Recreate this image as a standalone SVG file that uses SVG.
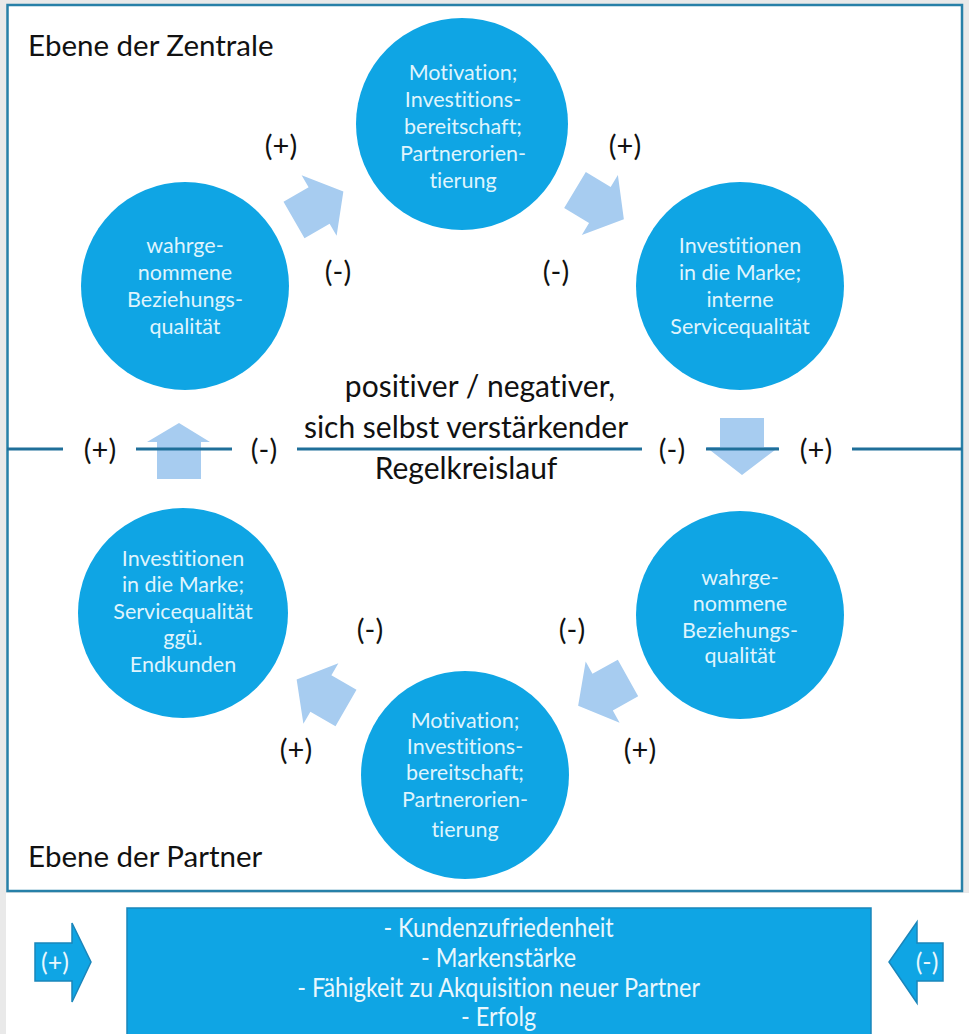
<svg xmlns="http://www.w3.org/2000/svg" xmlns:xlink="http://www.w3.org/1999/xlink" width="969" height="1034" viewBox="0 0 969 1034">
<style>
text{font-variant-ligatures:none;font-feature-settings:"liga" 0}
.circ{fill:#0fa5e4}
.ct{font-family:Lato,"Open Sans","Liberation Sans",sans-serif;font-size:21.5px;fill:#dff4fd;text-anchor:middle}
.lbl{font-family:Lato,"Open Sans","Liberation Sans",sans-serif;font-size:29px;fill:#111;text-anchor:middle}
.title{font-family:Lato,"Open Sans","Liberation Sans",sans-serif;font-size:29.5px;fill:#111}
.mid{font-family:Lato,"Open Sans","Liberation Sans",sans-serif;font-size:30px;fill:#111;text-anchor:middle}
.arr{fill:#a7ccf0}
.hline{stroke:#1f6f99;stroke-width:3;fill:none}
.bt{font-family:Lato,"Open Sans","Liberation Sans",sans-serif;font-size:26px;fill:#e8f7fd;text-anchor:middle}
.bat{font-family:Lato,"Open Sans","Liberation Sans",sans-serif;font-size:25px;fill:#e8f7fd;text-anchor:middle}
.barr{fill:#0fa5e4;stroke:#1a86bb;stroke-width:1.5}
</style>
<defs>
<polygon id="blk" points="0,-21 29,-21 29,-35 57,0 29,35 29,21 0,21"/>
</defs>
<rect x="0" y="0" width="969" height="1034" fill="#e9e9e9"/>
<rect x="6" y="893" width="963" height="141" fill="#ffffff"/>
<rect id="frame" x="7.5" y="5" width="954.5" height="886" fill="#ffffff" stroke="#2780a8" stroke-width="2.5"/>
<text class="title" x="28" y="56">Ebene der Zentrale</text>
<text class="title" x="28" y="867">Ebene der Partner</text>

<g id="connectors">
<use xlink:href="#blk" class="arr" transform="translate(294,220) rotate(-30)"/>
<use xlink:href="#blk" class="arr" transform="translate(575,190) rotate(31)"/>
<use xlink:href="#blk" class="arr" transform="translate(628,678) rotate(151)"/>
<use xlink:href="#blk" class="arr" transform="translate(346,708) rotate(210)"/>
<polygon class="arr" points="157,479 157,442 147,442 179,423 210,442 201,442 201,479"/>
<polygon class="arr" points="720,418 764,418 764,447 779,447 742,475 706,447 720,447"/>
<path class="hline" d="M7,449 H63 M136,449 H232 M297,449 H642 M706,449 H779 M852,449 H962"/>
<text class="lbl" x="281" y="156">(+)</text>
<text class="lbl" x="338" y="282">(-)</text>
<text class="lbl" x="625" y="156">(+)</text>
<text class="lbl" x="556" y="282">(-)</text>
<text class="lbl" x="100" y="460">(+)</text>
<text class="lbl" x="264" y="460">(-)</text>
<text class="lbl" x="672" y="460">(-)</text>
<text class="lbl" x="816" y="460">(+)</text>
<text class="lbl" x="370" y="640">(-)</text>
<text class="lbl" x="572" y="640">(-)</text>
<text class="lbl" x="296" y="760">(+)</text>
<text class="lbl" x="640" y="760">(+)</text>
</g>

<g id="center-text">
<text class="mid" x="480" y="397">positiver / negativer,</text>
<text class="mid" x="466" y="438">sich selbst verstärkender</text>
<text class="mid" x="466" y="479">Regelkreislauf</text>
</g>

<g id="node-top">
<circle class="circ" cx="462" cy="124" r="106"/>
<text class="ct" x="463" y="80">Motivation;</text>
<text class="ct" x="463" y="107">Investitions-</text>
<text class="ct" x="463" y="134">bereitschaft;</text>
<text class="ct" x="463" y="161">Partnerorien-</text>
<text class="ct" x="463" y="188">tierung</text>
</g>

<g id="node-left-top">
<circle class="circ" cx="185" cy="286" r="104"/>
<text class="ct" x="185" y="253">wahrge-</text>
<text class="ct" x="185" y="280">nommene</text>
<text class="ct" x="185" y="307">Beziehungs-</text>
<text class="ct" x="185" y="334">qualität</text>
</g>

<g id="node-right-top">
<circle class="circ" cx="740" cy="286" r="104"/>
<text class="ct" x="740" y="253">Investitionen</text>
<text class="ct" x="740" y="280">in die Marke;</text>
<text class="ct" x="740" y="307">interne</text>
<text class="ct" x="740" y="334">Servicequalität</text>
</g>

<g id="node-right-bottom">
<circle class="circ" cx="740" cy="615" r="104"/>
<text class="ct" x="740" y="585">wahrge-</text>
<text class="ct" x="740" y="611">nommene</text>
<text class="ct" x="740" y="638">Beziehungs-</text>
<text class="ct" x="740" y="663">qualität</text>
</g>

<g id="node-left-bottom">
<circle class="circ" cx="183" cy="613" r="105"/>
<text class="ct" x="183" y="566">Investitionen</text>
<text class="ct" x="183" y="592">in die Marke;</text>
<text class="ct" x="183" y="619">Servicequalität</text>
<text class="ct" x="183" y="645">ggü.</text>
<text class="ct" x="183" y="672">Endkunden</text>
</g>

<g id="node-bottom">
<circle class="circ" cx="465" cy="775" r="104"/>
<text class="ct" x="465" y="728">Motivation;</text>
<text class="ct" x="465" y="754">Investitions-</text>
<text class="ct" x="465" y="780">bereitschaft;</text>
<text class="ct" x="465" y="807">Partnerorien-</text>
<text class="ct" x="465" y="837">tierung</text>
</g>

<g id="node-outcomes">
<rect x="127" y="908" width="744" height="140" fill="#0fa5e4" stroke="#1a86bb" stroke-width="1.5"/>
<g transform="scale(0.9,1)">
<text class="bt" x="554" y="937">- Kundenzufriedenheit</text>
<text class="bt" x="554" y="967">- Markenstärke</text>
<text class="bt" x="554" y="997">- Fähigkeit zu Akquisition neuer Partner</text>
<text class="bt" x="554" y="1026">- Erfolg</text>
</g>
</g>

<g id="node-plus-arrow">
<polygon class="barr" points="35,943 72,943 72,923 91,962 72,1002 72,981 35,981"/>
<text class="bat" x="55" y="971">(+)</text>
</g>

<g id="node-minus-arrow">
<polygon class="barr" points="943,943 917,943 917,922 889,962 917,1003 917,981 943,981"/>
<text class="bat" x="927" y="971">(-)</text>
</g>
</svg>
